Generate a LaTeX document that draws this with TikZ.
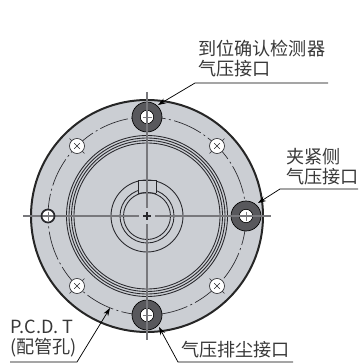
\documentclass[tikz,border=0pt]{standalone}
\usepackage{fontspec}
\setmainfont{Liberation Sans}
\newfontfamily\cjk{Noto Sans CJK SC}
\usetikzlibrary{arrows.meta}
\definecolor{bodygrey}{RGB}{203,206,211}
\definecolor{portgrey}{RGB}{88,88,92}
\definecolor{linegrey}{RGB}{40,40,44}
\definecolor{axisgrey}{RGB}{120,120,124}
\tikzset{
  lab/.style={inner sep=0pt, align=left, anchor=west, text=black!78, font=\cjk\fontsize{13.6pt}{15pt}\selectfont},
  leadline/.style={line width=0.55pt, black, -{Stealth[length=6pt,width=4pt]}},
  axisline/.style={line width=1pt, axisgrey},
  ring/.style={line width=0.65pt, linegrey},
  pcdline/.style={line width=0.5pt, linegrey, dash pattern=on 22pt off 2.5pt on 1.5pt off 2.5pt}
}
\begin{document}
\begin{tikzpicture}[x=0.75pt,y=-0.75pt]
  \useasboundingbox (0,0) rectangle (361,363);

  \coordinate (c0) at (147,216);
  \coordinate (p1) at (147,117);
  \coordinate (p2) at (246,216);
  \coordinate (p3) at (147,315);
  \coordinate (p4) at (48,216);

  % body
  \fill[bodygrey] (c0) circle[radius=116];
  \draw[line width=1.5pt, black!85] (c0) circle[radius=116];
  \draw[pcdline] (c0) circle[radius=99];

  % rings
  \foreach \r in {80.5,78,75.5,73} \draw[ring] (c0) circle[radius=\r];
  \foreach \r in {36,27,23.5} \draw[ring] (c0) circle[radius=\r];

  % key slot
  \fill[bodygrey] (138,180.5) rectangle (156,192);
  \draw[ring] (138,193) -- (138,180) -- (156,180) -- (156,193);
  \draw[ring] (138,193.5) to[bend left=8] (156,193.5);

  % holes
  \foreach \a in {45,135,225,315} {
    \draw[line width=0.4pt, linegrey] (c0) ++(\a:88.5) -- ++(\a:21);
    \fill[white] (c0) ++(\a:99) circle[radius=7.5];
    \draw[line width=0.5pt, linegrey] (c0) ++(\a:99) circle[radius=7.5];
    \draw[line width=0.5pt, linegrey] (c0) ++(\a:99) ++(-2.8,-2.8) -- ++(5.6,5.6) ++(-5.6,0) -- ++(5.6,-5.6);
  }

  % ports
  \foreach \p in {p1,p2,p3} {
    \fill[portgrey] (\p) circle[radius=15];
    \draw[line width=0.5pt, black] (\p) circle[radius=15];
    \fill[white] (\p) circle[radius=6.7];
    \draw[line width=0.5pt, black] (\p) circle[radius=6.7];
  }
  \fill[white] (p4) circle[radius=6.5];

  % axes
  \draw[axisline] (147,92) -- (147,208);
  \draw[axisline] (147,224) -- (147,340);
  \draw[axisline] (23,216) -- (139,216);
  \draw[axisline] (155,216) -- (271,216);
  \draw[line width=1pt, linegrey] (143,216) -- (151,216);
  \draw[line width=1pt, linegrey] (147,212) -- (147,220);
  \draw[line width=0.7pt, axisgrey] (p1) ++(-4.5,0) -- ++(9,0);
  \draw[line width=0.7pt, axisgrey] (p3) ++(-4.5,0) -- ++(9,0);
  \draw[line width=0.7pt, axisgrey] (p2) ++(0,-4.5) -- ++(0,9);
  \draw[line width=0.7pt, axisgrey] (p4) ++(0,-4.5) -- ++(0,9);
  \draw[line width=1.3pt, linegrey] (p4) circle[radius=6.5];

  % labels
  \node[lab] (top1) at (198,49) {到位确认检测器};
  \node[lab] (top2) at (198,69) {气压接口};
  \node[lab] (right1) at (286,157) {夹紧侧};
  \node[lab] (right2) at (286,177) {气压接口};
  \node[lab] (pcd1) at (10,327) {P.C.D. T};
  \node[lab] (pcd2) at (10,348) {(配管孔)};
  \node[lab] (bottom1) at (181,350) {气压排尘接口};

  % leaders
  \coordinate (t1) at (328,83);
  \coordinate (t2) at (195,83);
  \coordinate (t3) at (158,105);
  \coordinate (r1) at (358,189);
  \coordinate (r2) at (280,189);
  \coordinate (r3) at (258,203);
  \coordinate (l1) at (10,362);
  \coordinate (l2) at (77,362);
  \coordinate (l3) at (110,308);
  \coordinate (b1) at (293,362);
  \coordinate (b2) at (178,362);
  \coordinate (b3) at (159,327);
  \draw[leadline] (t1) -- (t2) -- (t3);
  \draw[leadline] (r1) -- (r2) -- (r3);
  \draw[leadline] (l1) -- (l2) -- (l3);
  \draw[leadline] (b1) -- (b2) -- (b3);
\end{tikzpicture}
\end{document}
